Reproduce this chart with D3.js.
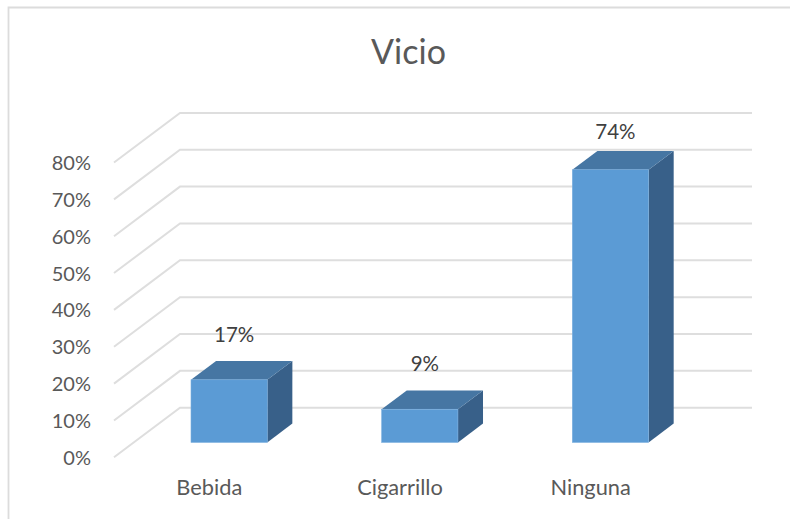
<!DOCTYPE html>
<html><head><meta charset="utf-8">
<script src="https://cdn.jsdelivr.net/npm/d3@7/dist/d3.min.js"></script>
<style>html,body{margin:0;padding:0;background:#fff}svg{display:block}text{font-family:Lato,"Open Sans",sans-serif}</style>
</head><body><svg id="c" width="790" height="519"></svg>
<script>
const categories = ["Bebida","Cigarrillo","Ninguna"];
const values = [17,9,74];
const valueLabels = ["17%","9%","74%"];
const ticks = [0,10,20,30,40,50,60,70,80];
const title = "Vicio";

const svg = d3.select("#c");
const left=114, right=686, y0=457.3, y80=162.5;
const depthX=66, depthY=-49.6;
const barStart=0.30, barDepth=0.38;
const x = d3.scaleBand().domain(categories).range([left,right]).paddingInner(0.6).paddingOuter(0.3);
const y = d3.scaleLinear().domain([0,80]).range([y0,y80]);
const labelY = d3.scaleLinear().domain([9,74]).range([371,138.5]);
const line = d3.line();

svg.append("path").attr("d","M8.5,519V7.5H790").attr("fill","none").attr("stroke","#dcdcdc").attr("stroke-width",1.8);

svg.append("text").text(title).attr("x",408.5).attr("y",64).attr("text-anchor","middle").attr("font-size",34).attr("fill","#595959");

svg.append("g").selectAll("path").data(ticks).join("path")
  .attr("d",t=>line([[left,y(t)],[left+depthX,y(t)+depthY],[right+depthX,y(t)+depthY]]))
  .attr("fill","none").attr("stroke","#dedede").attr("stroke-width",2);

svg.append("g").selectAll("text").data(ticks).join("text")
  .text(t=>t+"%").attr("x",91).attr("y",t=>y(t)+7.5).attr("text-anchor","end")
  .attr("font-size",20).attr("fill","#595959");

svg.append("g").selectAll("text").data(categories).join("text")
  .text(d=>d).attr("x",d=>x(d)+x.bandwidth()/2).attr("y",495).attr("text-anchor","middle")
  .attr("font-size",21.8).attr("fill","#595959");

const bars = svg.append("g").selectAll("g").data(categories.map((c,i)=>({c,v:values[i],l:valueLabels[i]}))).join("g");
const ox=depthX*barStart, oy=depthY*barStart, dx=depthX*barDepth, dy=depthY*barDepth;
const X=d=>x(d.c)+ox, W=x.bandwidth();
bars.append("path").attr("fill","#386089")
  .attr("d",d=>line([[X(d)+W,y(0)+oy],[X(d)+W+dx,y(0)+oy+dy],[X(d)+W+dx,y(d.v)+oy+dy],[X(d)+W,y(d.v)+oy]])+"Z");
bars.append("path").attr("fill","#4676a3")
  .attr("d",d=>line([[X(d),y(d.v)+oy],[X(d)+dx,y(d.v)+oy+dy],[X(d)+W+dx,y(d.v)+oy+dy],[X(d)+W,y(d.v)+oy]])+"Z");
bars.append("rect").attr("fill","#5b9bd5").attr("stroke","#7aaede").attr("stroke-width",0.6)
  .attr("x",X).attr("y",d=>y(d.v)+oy).attr("width",W).attr("height",d=>y(0)-y(d.v));
bars.append("text").text(d=>d.l).attr("x",d=>X(d)+W/2+5).attr("y",d=>labelY(d.v))
  .attr("text-anchor","middle").attr("font-size",20.5).attr("fill","#404040");
</script></body></html>
